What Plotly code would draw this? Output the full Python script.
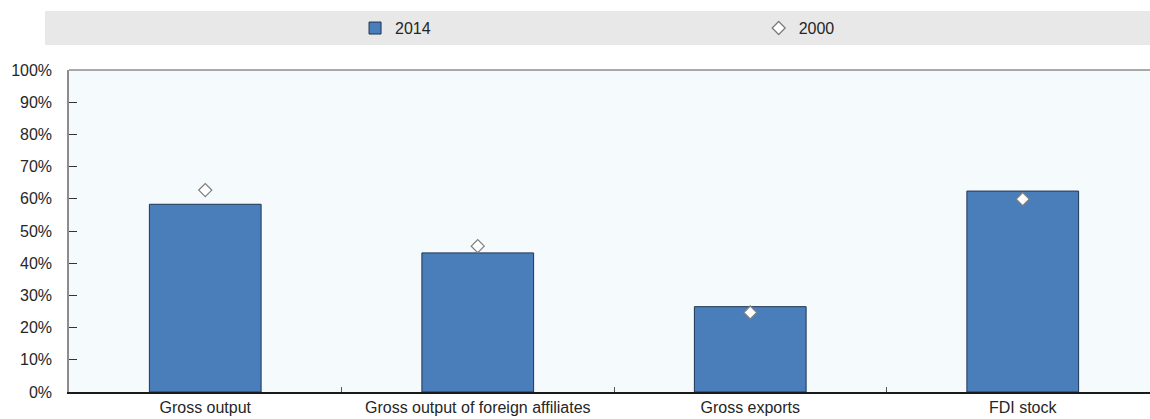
import plotly.graph_objects as go

categories = ["Gross output", "Gross output of foreign affiliates", "Gross exports", "FDI stock"]
values_2014 = [58.3, 43.2, 26.5, 62.4]
values_2000 = [62.7, 45.3, 24.7, 59.9]
y_ticks = [0, 10, 20, 30, 40, 50, 60, 70, 80, 90, 100]
y_tick_labels = [f"{v}%" for v in y_ticks]

FONT = "Liberation Sans, Arial, sans-serif"
TXT = "#262626"

fig = go.Figure()
fig.add_trace(go.Bar(
    x=categories, y=values_2014, name="2014", legend="legend",
    marker=dict(color="#4a7ebb", line=dict(color="#1e3553", width=1)),
    width=0.41,
))
fig.add_trace(go.Scatter(
    x=categories, y=values_2000, name="2000", mode="markers", legend="legend2",
    marker=dict(symbol="diamond", size=10, color="white",
                line=dict(color="#7f7f7f", width=1.3)),
))

legend_common = dict(
    orientation="h", y=1.13, yanchor="middle", xanchor="left",
    bgcolor="rgba(0,0,0,0)", font=dict(family=FONT, size=16, color=TXT),
)

fig.update_layout(
    width=1150, height=419,
    margin=dict(l=69, r=0, t=70, b=27),
    paper_bgcolor="white",
    plot_bgcolor="#f5fafd",
    font=dict(family=FONT, size=16, color=TXT),
    showlegend=True,
    legend=dict(x=0.2646, **legend_common),
    legend2=dict(x=0.638, **legend_common),
    shapes=[
        dict(type="rect", xref="paper", yref="paper", x0=-0.0222, x1=1.0,
             y0=1.078, y1=1.183, fillcolor="#e8e8e8", line=dict(width=0), layer="below"),
        dict(type="line", xref="paper", yref="paper", x0=0, x1=1, y0=1, y1=1,
             line=dict(color="#8c8c8c", width=1.5)),
    ],
)

fig.update_xaxes(
    type="category", range=[-0.5, 3.467], automargin=False, tickangle=0,
    showline=True, linecolor="#1a1a1a", linewidth=1.5,
    ticks="inside", tickson="boundaries", ticklen=5, tickcolor="#555555", tickwidth=1,
    showgrid=False, zeroline=False,
    tickfont=dict(family=FONT, size=16, color=TXT),
)
fig.update_yaxes(
    range=[0, 100], tickvals=y_ticks, ticktext=y_tick_labels, automargin=False,
    showline=True, linecolor="#8c8c8c", linewidth=1.5,
    ticks="inside", ticklen=8, tickcolor="#333333", tickwidth=1,
    showgrid=False, zeroline=False,
    ticklabelstandoff=12,
    tickfont=dict(family=FONT, size=16, color=TXT),
)

fig.write_html("out.html")
